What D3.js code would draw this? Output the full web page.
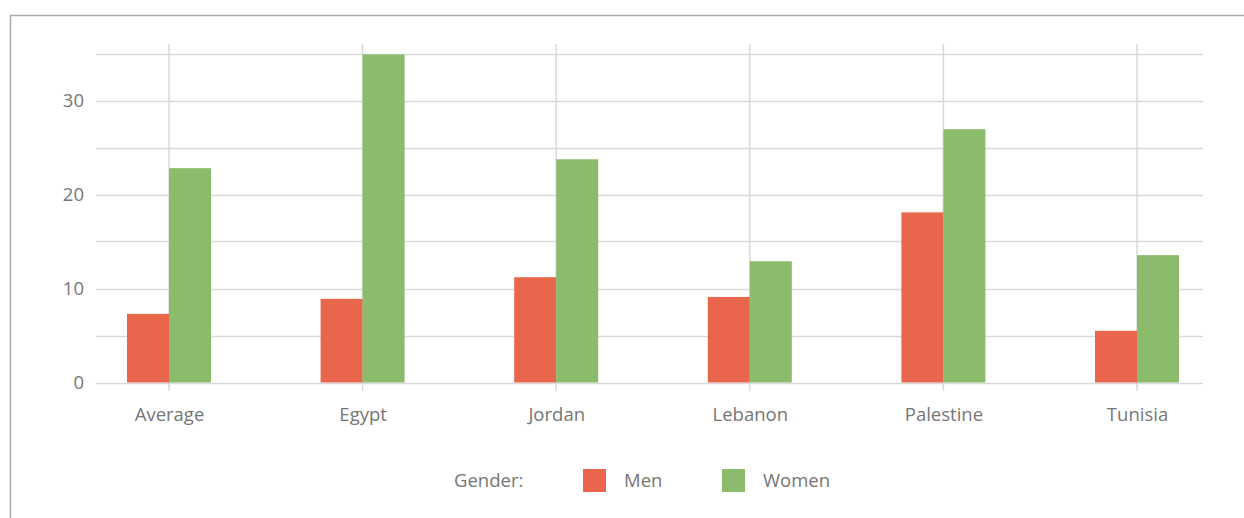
<!DOCTYPE html>
<html>
<head>
<meta charset="utf-8">
<script src="https://cdn.jsdelivr.net/npm/d3@7"></script>
<style>
  html, body { margin: 0; padding: 0; background: #fff; }
  svg { display: block; }
</style>
</head>
<body>
<svg id="chart" width="1244" height="518"></svg>
<script>
const categories = ["Average", "Egypt", "Jordan", "Lebanon", "Palestine", "Tunisia"];
const series = ["Men", "Women"];
const menValues = [7.3, 8.9, 11.2, 9.1, 18.1, 5.5];
const womenValues = [22.8, 34.9, 23.75, 12.9, 26.95, 13.55];
const yTickLabels = [0, 10, 20, 30];
const yGridValues = [0, 5, 10, 15, 20, 25, 30, 35];
const legendTitle = "Gender:";
const colors = ["#E8664C", "#8ABC6C"];

const svg = d3.select("#chart");
const font = "'Open Sans', sans-serif";
const fontSize = 18.5;
const textColor = "#767676";
const gridColor = "#d9d9d9";

// outer frame (only top and left visible)
svg.append("path")
  .attr("d", "M10.5,1244 L10.5,15.5 L1244,15.5")
  .attr("fill", "none").attr("stroke", "#ababab").attr("stroke-width", 1.5);

const plotLeft = 96, plotRight = 1203;
const y = d3.scaleLinear().domain([0, 35]).range([382.5, 53.5]);
const x = d3.scalePoint().domain(categories).range([169, 1137]);
const barW = 42;
const xs = d3.scaleBand().domain(series).range([-barW, barW]).padding(0);

// horizontal grid
svg.append("g").selectAll("line").data(yGridValues).join("line")
  .attr("x1", plotLeft).attr("x2", plotRight)
  .attr("y1", d => Math.round(y(d)) + 0.5).attr("y2", d => Math.round(y(d)) + 0.5)
  .attr("stroke", gridColor).attr("stroke-width", 1.5);

// vertical grid at categories
svg.append("g").selectAll("line").data(categories).join("line")
  .attr("x1", d => x(d)).attr("x2", d => x(d))
  .attr("y1", 44).attr("y2", 391)
  .attr("stroke", gridColor).attr("stroke-width", 1.5);

// y axis labels
const yAxis = d3.axisLeft(y).tickValues(yTickLabels).tickSize(0).tickPadding(0);
const gy = svg.append("g").attr("transform", "translate(84,0)").call(yAxis);
gy.select(".domain").remove();
gy.selectAll("text").attr("font-family", font).attr("font-size", fontSize).attr("fill", textColor).attr("dy", "0.35em");

// bars
const data = categories.map((c, i) => ({ c, vals: [menValues[i], womenValues[i]] }));
const groups = svg.append("g").selectAll("g").data(data).join("g")
  .attr("transform", d => `translate(${x(d.c)},0)`);
groups.selectAll("rect").data(d => d.vals.map((v, j) => ({ s: series[j], v, j }))).join("rect")
  .attr("x", d => xs(d.s))
  .attr("width", xs.bandwidth())
  .attr("y", d => y(d.v))
  .attr("height", d => y(0) - y(d.v))
  .attr("fill", d => colors[d.j]);

// x axis labels
const xAxis = d3.axisBottom(x).tickSize(0).tickPadding(0);
const gx = svg.append("g").attr("transform", "translate(0,421)").call(xAxis);
gx.select(".domain").remove();
gx.selectAll("text").attr("font-family", font).attr("font-size", fontSize).attr("fill", textColor).attr("dy", "0");

// legend
const lg = svg.append("g");
lg.append("text").attr("x", 454).attr("y", 487).text(legendTitle)
  .attr("font-family", font).attr("font-size", fontSize).attr("fill", textColor);
const legendX = [583, 722];
series.forEach((s, i) => {
  lg.append("rect").attr("x", legendX[i]).attr("y", 469).attr("width", 23).attr("height", 23).attr("fill", colors[i]);
  lg.append("text").attr("x", legendX[i] + 41).attr("y", 487).text(s)
    .attr("font-family", font).attr("font-size", fontSize).attr("fill", textColor);
});
</script>
</body>
</html>
